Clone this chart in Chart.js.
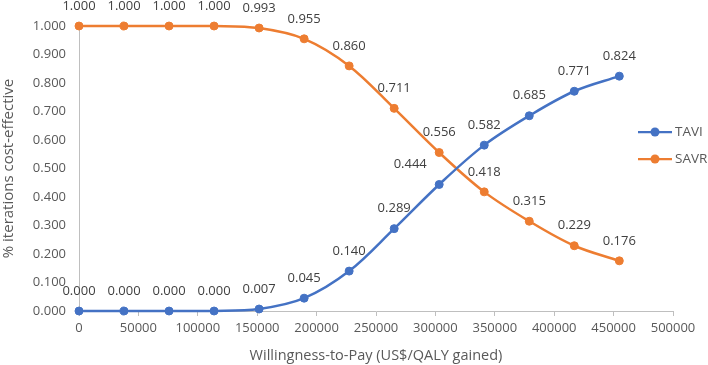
<!DOCTYPE html>
<html>
<head>
<meta charset="utf-8">
<script src="https://cdn.jsdelivr.net/npm/chart.js@4"></script>
<style>
  html, body { margin: 0; padding: 0; background: #fff; }
  #wrap { width: 708px; height: 365px; position: relative; }
</style>
</head>
<body>
<div id="wrap"><canvas id="chart"></canvas></div>
<script>
// willingness-to-pay thresholds (US$/QALY) and share of iterations cost-effective
const wtp = [0, 37900, 75800, 113700, 151600, 189500, 227400, 265300, 303200, 341100, 379000, 416900, 454800];
const taviValues = [0.000, 0.000, 0.000, 0.000, 0.007, 0.045, 0.140, 0.289, 0.444, 0.582, 0.685, 0.771, 0.824];
const savrValues = [1.000, 1.000, 1.000, 1.000, 0.993, 0.955, 0.860, 0.711, 0.556, 0.418, 0.315, 0.229, 0.176];
const seriesNames = ["TAVI", "SAVR"];
const seriesColors = ["#4472C4", "#ED7D31"];

const FONT = "'Open Sans', 'Noto Sans', sans-serif";
const TEXT = "#595959";

// value labels above every point (one label nudged left so it clears the crossing lines)
const valueLabels = {
  id: "valueLabels",
  afterDatasetsDraw(chart) {
    const ctx = chart.ctx;
    const nudge = { 0: { 8: -29 } };
    ctx.save();
    ctx.font = "13px " + FONT;
    ctx.fillStyle = "#404040";
    ctx.textAlign = "center";
    ctx.textBaseline = "middle";
    chart.data.datasets.forEach((ds, di) => {
      chart.getDatasetMeta(di).data.forEach((pt, i) => {
        const dx = (nudge[di] && nudge[di][i]) || 0;
        ctx.fillText(ds.data[i].y.toFixed(3), pt.x + dx, pt.y - 20);
      });
    });
    ctx.restore();
  },
};

// Excel-style legend sitting at the right edge, over the plot
const sideLegend = {
  id: "sideLegend",
  afterDraw(chart) {
    const ctx = chart.ctx;
    ctx.save();
    ctx.font = "13.5px " + FONT;
    ctx.textBaseline = "middle";
    chart.data.datasets.forEach((ds, i) => {
      const y = 132 + i * 27;
      ctx.strokeStyle = ds.borderColor;
      ctx.lineWidth = 2.25;
      ctx.beginPath();
      ctx.moveTo(638, y);
      ctx.lineTo(672, y);
      ctx.stroke();
      ctx.fillStyle = ds.borderColor;
      ctx.beginPath();
      ctx.arc(655, y, 4.5, 0, Math.PI * 2);
      ctx.fill();
      ctx.fillStyle = TEXT;
      ctx.fillText(ds.label, 675, y);
    });
    ctx.restore();
  },
};

const datasets = [taviValues, savrValues].map((vals, i) => ({
  label: seriesNames[i],
  data: vals.map((v, j) => ({ x: wtp[j], y: v })),
  borderColor: seriesColors[i],
  backgroundColor: seriesColors[i],
  borderWidth: 2.5,
  pointRadius: 4,
  pointBorderWidth: 1,
  pointHoverRadius: 4,
  tension: 0.35,
  fill: false,
  clip: false,
}));

new Chart(document.getElementById("chart"), {
  type: "line",
  data: { datasets },
  plugins: [valueLabels, sideLegend],
  options: {
    responsive: true,
    maintainAspectRatio: false,
    animation: false,
    layout: { padding: { left: 0, right: 35, top: 26, bottom: 0 } },
    plugins: {
      legend: { display: false },
      tooltip: { enabled: false },
    },
    scales: {
      x: {
        type: "linear",
        min: 0,
        max: 500000,
        afterFit: (s) => { s.height = 54; },
        ticks: {
          stepSize: 50000,
          color: TEXT,
          font: { family: FONT, size: 13 },
          padding: 4,
          maxRotation: 0,
          callback: (v) => String(v),
        },
        grid: { drawOnChartArea: false, drawTicks: true, tickLength: 5, color: "#bfbfbf" },
        border: { color: "#bfbfbf", width: 1 },
        title: {
          display: true,
          text: "Willingness-to-Pay (US$/QALY gained)",
          color: TEXT,
          font: { family: FONT, size: 14.5 },
          padding: { top: 0, bottom: 0 },
        },
      },
      y: {
        min: 0,
        max: 1,
        afterFit: (s) => { s.width = 79; },
        ticks: {
          stepSize: 0.1,
          color: TEXT,
          font: { family: FONT, size: 13 },
          padding: 13,
          callback: (v) => v.toFixed(3),
        },
        grid: { display: false, drawTicks: false },
        border: { color: "#bfbfbf", width: 1 },
        title: {
          display: true,
          text: "% iterations cost-effective",
          color: TEXT,
          font: { family: FONT, size: 15 },
          padding: { top: 0, bottom: 0 },
        },
      },
    },
  },
});
</script>
</body>
</html>
